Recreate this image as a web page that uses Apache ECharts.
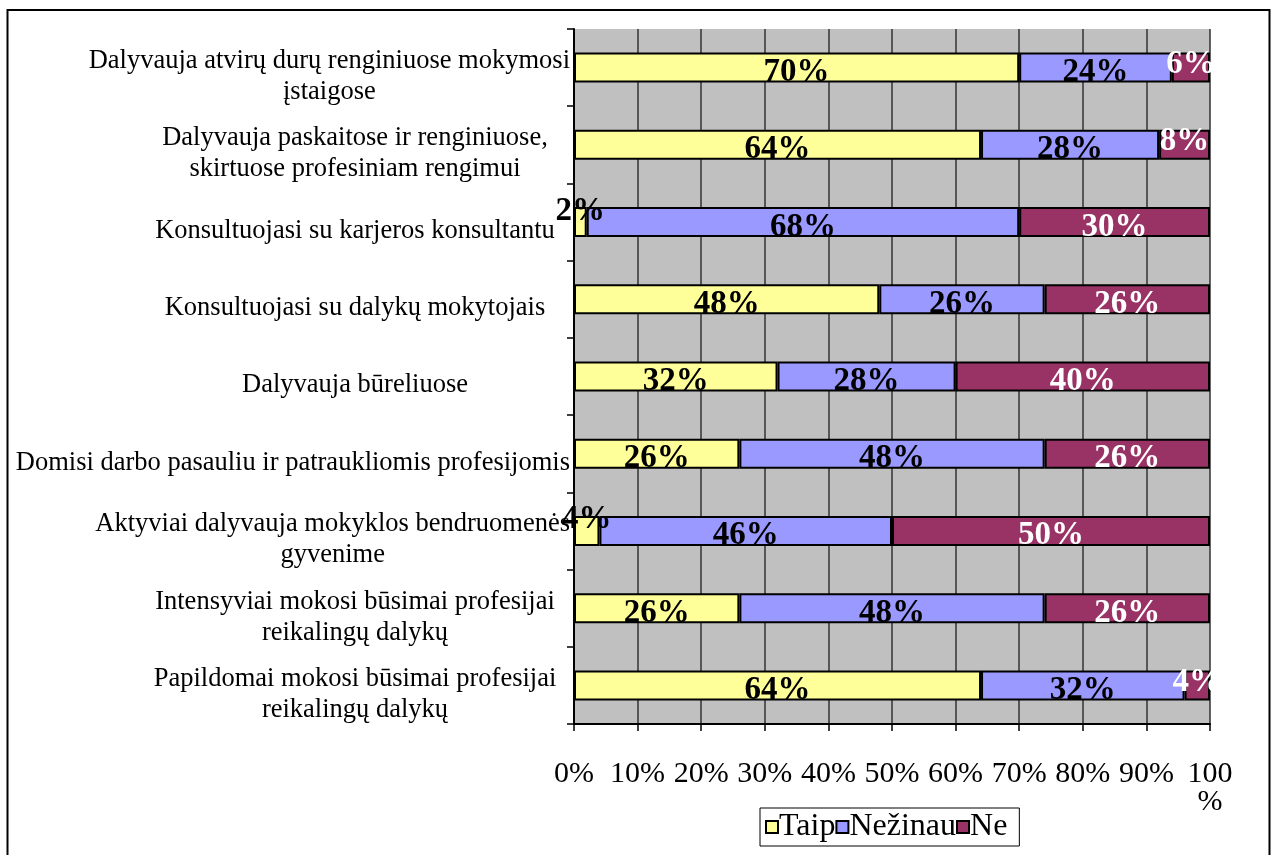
<!DOCTYPE html>
<html>
<head>
<meta charset="utf-8">
<script src="https://cdn.jsdelivr.net/npm/echarts@6/dist/echarts.min.js"></script>
<style>
  html, body { margin: 0; padding: 0; background: #fff; }
  #chart { width: 1275px; height: 855px; }
</style>
</head>
<body>
<div id="chart"></div>
<script>
// kategorijos (iš viršaus į apačią)
var categories = [
  'Dalyvauja atvirų durų renginiuose mokymosi\nįstaigose',
  'Dalyvauja paskaitose ir renginiuose,\nskirtuose profesiniam rengimui',
  'Konsultuojasi su karjeros konsultantu',
  'Konsultuojasi su dalykų mokytojais',
  'Dalyvauja būreliuose',
  'Domisi darbo pasauliu ir patraukliomis profesijomis',
  'Aktyviai dalyvauja mokyklos bendruomenės\ngyvenime',
  'Intensyviai mokosi būsimai profesijai\nreikalingų dalykų',
  'Papildomai mokosi būsimai profesijai\nreikalingų dalykų'
];
var taip = [70, 64, 2, 48, 32, 26, 4, 26, 64];
var nezinau = [24, 28, 68, 26, 28, 48, 46, 48, 32];
var ne = [6, 8, 30, 26, 40, 26, 50, 26, 4];
var seriesNames = ['Taip', 'Nežinau', 'Ne'];
var xTicks = [0, 10, 20, 30, 40, 50, 60, 70, 80, 90, 100];

var serif = '"Liberation Serif", "DejaVu Serif", serif';
var chart = echarts.init(document.getElementById('chart'));

// maži skaičiai Excel'yje pakelti aukščiau
function withOffset(arr, smallDy) {
  return arr.map(function (v) {
    return { value: v, label: { offset: [0, v >= 10 ? 5 : smallDy] } };
  });
}

function makeSeries(name, arr, color, txtColor, smallDy) {
  return {
    name: name,
    type: 'bar',
    stack: 'all',
    barWidth: 30,
    data: withOffset(arr, smallDy),
    itemStyle: { color: color, borderColor: '#000', borderWidth: 2 },
    label: {
      show: true,
      position: 'inside',
      formatter: '{c}%',
      color: txtColor,
      fontFamily: serif,
      fontWeight: 'bold',
      fontSize: 33
    },
    emphasis: { disabled: true }
  };
}

var option = {
  animation: false,
  backgroundColor: '#fff',
  graphic: [{
    type: 'rect',
    shape: { x: 7.5, y: 10, width: 1262, height: 860 },
    style: { fill: 'none', stroke: '#000', lineWidth: 2 },
    silent: true
  }],
  grid: {
    left: 574,
    right: 65,
    top: 29,
    bottom: 131,
    show: true,
    backgroundColor: '#c0c0c0',
    borderWidth: 0
  },
  legend: {
    data: seriesNames,
    left: 760,
    top: 808,
    itemGap: 0,
    itemWidth: 12,
    itemHeight: 12,
    icon: 'rect',
    padding: [3, 12, 3, 5],
    borderColor: '#000',
    borderWidth: 1,
    textStyle: { fontFamily: serif, fontSize: 32, color: '#000', padding: [0, 0, 0, -4] },
    selectedMode: false
  },
  xAxis: {
    type: 'value',
    min: 0,
    max: 100,
    interval: 10,
    axisLine: { show: true, lineStyle: { color: '#000', width: 2 } },
    axisTick: { show: true, length: 7, lineStyle: { color: '#000', width: 1.5 } },
    splitLine: { show: true, lineStyle: { color: '#333', width: 1.5 } },
    axisLabel: {
      margin: 36,
      fontFamily: serif,
      fontSize: 30,
      lineHeight: 28,
      color: '#000',
      formatter: function (v) {
        return xTicks.indexOf(v) < 0 ? '' : (v === 100 ? '100\n%' : v + '%');
      }
    }
  },
  yAxis: {
    type: 'category',
    data: categories,
    inverse: true,
    axisLine: { show: true, lineStyle: { color: '#000', width: 2 } },
    axisTick: { show: true, length: 7, lineStyle: { color: '#000', width: 1.5 } },
    splitLine: { show: false },
    axisLabel: {
      margin: 4,
      align: 'right',
      padding: [18, 0, 0, 0],
      formatter: function (s) {
        // ilgos eilutės nebetelpa į centruotą dėžutę
        return s.split('\n').map(function (line) {
          return (line.length > 38 ? '{w|' : '{c|') + line + '}';
        }).join('\n');
      },
      rich: {
        c: { width: 430, align: 'center', fontFamily: serif, fontSize: 26.5, lineHeight: 31, color: '#000' },
        w: { fontFamily: serif, fontSize: 26.5, lineHeight: 31, color: '#000' }
      }
    }
  },
  series: [
    makeSeries(seriesNames[0], taip, '#ffff99', '#000', -11),
    makeSeries(seriesNames[1], nezinau, '#9999ff', '#000', -3),
    makeSeries(seriesNames[2], ne, '#993366', '#fff', -3)
  ]
};

chart.setOption(option);
</script>
</body>
</html>
